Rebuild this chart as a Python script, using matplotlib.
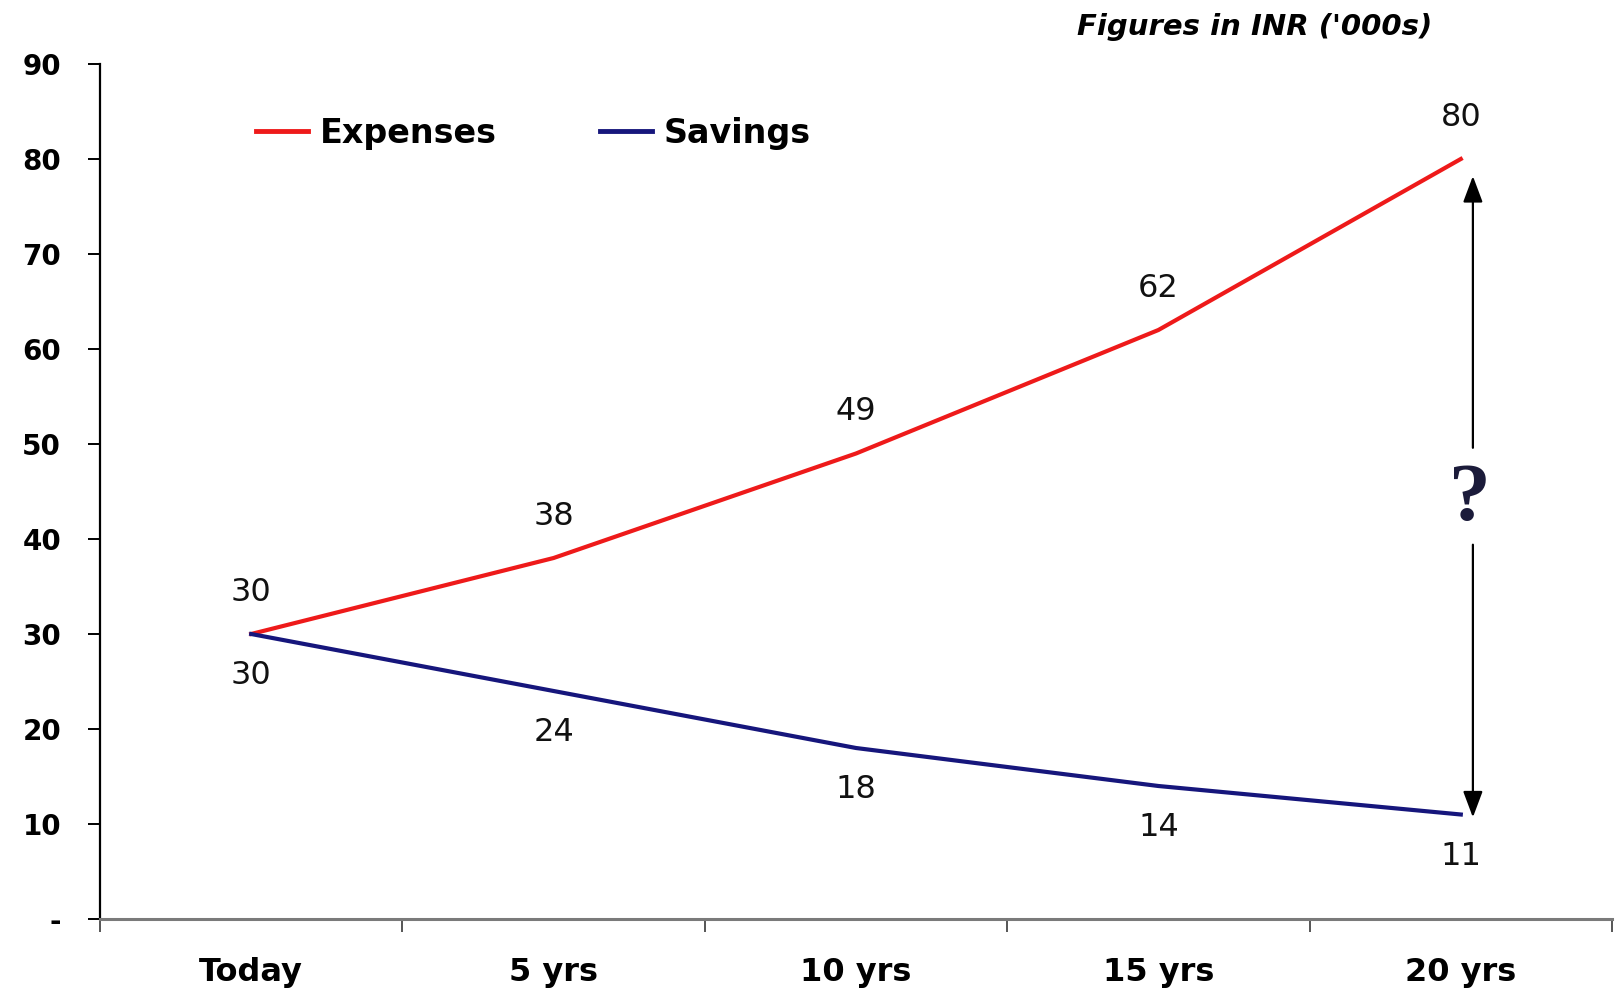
import matplotlib
matplotlib.use("Agg")
import matplotlib.pyplot as plt
from matplotlib.ticker import FixedLocator

# Monthly figures, INR thousands
periods = ["Today", "5 yrs", "10 yrs", "15 yrs", "20 yrs"]
expenses = [30, 38, 49, 62, 80]
savings = [30, 24, 18, 14, 11]
y_ticks = [0, 10, 20, 30, 40, 50, 60, 70, 80, 90]
y_tick_labels = ["-", "10", "20", "30", "40", "50", "60", "70", "80", "90"]

W, H = 1624, 992
fig = plt.figure(figsize=(W / 100, H / 100), dpi=100)
fig.patch.set_facecolor("white")
ax = fig.add_axes([100 / W, 1 - 919 / H, 1512 / W, 855 / H])

xs = list(range(len(periods)))
red = "#ee1a1a"
navy = "#16167c"
ax.plot(xs, expenses, color=red, lw=3, label="Expenses", solid_joinstyle="round")
ax.plot(xs, savings, color=navy, lw=3, label="Savings", solid_joinstyle="round")

ax.set_xlim(-0.5, len(periods) - 0.5)
ax.set_ylim(y_ticks[0], y_ticks[-1])

# value labels above / below each point
for xi, v in zip(xs, expenses):
    ax.annotate(f"{v}", (xi, v), xytext=(0, 30), textcoords="offset points",
                ha="center", va="center", fontsize=23, color="#111111")
for xi, v in zip(xs, savings):
    ax.annotate(f"{v}", (xi, v), xytext=(0, -30), textcoords="offset points",
                ha="center", va="center", fontsize=23, color="#111111")

# gap between expenses and savings at the final period
gx = xs[-1] + 0.04
top, bottom = expenses[-1], savings[-1]
mid = (top + bottom) / 2 - 1.1
arrow = dict(arrowstyle="-|>,head_width=0.3,head_length=0.8", color="black",
             lw=1.6, mutation_scale=20, shrinkA=0, shrinkB=0)
ax.annotate("", xy=(gx, top - 1.8), xytext=(gx, mid + 5.2), arrowprops=arrow)
ax.annotate("", xy=(gx, bottom - 0.3), xytext=(gx, mid - 5), arrowprops=arrow)
ax.text(gx - 0.01, mid - 0.3, "?", ha="center", va="center", fontsize=60,
        fontweight="bold", family="Liberation Serif", color="#1b1b3a")

# axes styling
for s in ("top", "right"):
    ax.spines[s].set_visible(False)
ax.spines["left"].set_color("black")
ax.spines["left"].set_linewidth(1.6)
ax.spines["bottom"].set_color("#7a7a7a")
ax.spines["bottom"].set_linewidth(2.2)

ax.set_yticks(y_ticks)
ax.set_yticklabels(y_tick_labels, fontsize=20, fontweight="bold")
ax.tick_params(axis="y", length=9, width=1.4, pad=19, direction="out", color="black")

ax.set_xticks(xs)
ax.set_xticklabels(periods, fontsize=23, fontweight="bold")
ax.tick_params(axis="x", which="major", length=0, pad=27)
ax.xaxis.set_minor_locator(FixedLocator([i - 0.5 for i in range(len(periods) + 1)]))
ax.tick_params(axis="x", which="minor", length=9, width=1.4, direction="out",
               color="#555555")

leg = ax.legend(loc="center left", bbox_to_anchor=(256 / W, 1 - 133 / H),
                bbox_transform=fig.transFigure, ncol=2, frameon=False,
                prop=dict(size=24, weight="bold"), handlelength=1.55,
                handletextpad=0.36, columnspacing=3.1, borderpad=0,
                borderaxespad=0)
for line in leg.get_lines():
    line.set_linewidth(3.5)

fig.text(1432 / W, 1 - 27 / H, "Figures in INR ('000s)", ha="right", va="center",
         fontsize=21, fontweight="bold", fontstyle="oblique", family="DejaVu Sans")

fig.savefig("out.png", dpi=100, facecolor="white")
